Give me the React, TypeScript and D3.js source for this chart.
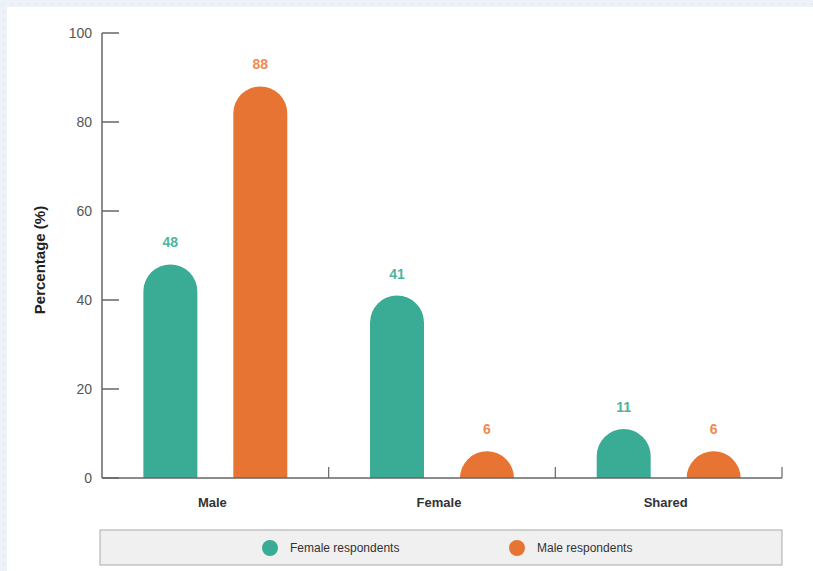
import React from "react";
import * as d3 from "d3";

const categories = ["Male", "Female", "Shared"];
const seriesNames = ["Female respondents", "Male respondents"];
const femaleRespondents = [48, 41, 11];
const maleRespondents = [88, 6, 6];
const yTicks = [0, 20, 40, 60, 80, 100];

const W = 813;
const H = 571;
const barColors = ["#3aab94", "#e87434"];
const labelColors = ["#4db59e", "#ee8a54"];

export default function App() {
  const left = 102;
  const right = 782;
  const top = 33;
  const bottom = 478;

  const x0 = d3.scaleBand<string>().domain(categories).range([left, right]).paddingInner(0).paddingOuter(0);
  const x1 = d3.scaleBand<string>().domain(seriesNames).range([0, x0.bandwidth()]).paddingInner(0.4).paddingOuter(0.46);
  const y = d3.scaleLinear().domain([0, 100]).range([bottom, top]);

  const series = [femaleRespondents, maleRespondents];
  const bw = x1.bandwidth();
  const r = bw / 2;

  return (
    <svg width={W} height={H} style={{ position: "absolute", left: 0, top: 0 }} fontFamily="Liberation Sans, Arial, sans-serif">
      <defs>
        <pattern id="dots" width="8" height="8" patternUnits="userSpaceOnUse">
          <rect width="8" height="8" fill="#edf1f8" />
          <rect x="3" y="3" width="1.5" height="1.5" fill="#dfe5f0" />
        </pattern>
        <clipPath id="plot">
          <rect x={left} y={0} width={right - left} height={bottom} />
        </clipPath>
      </defs>
      <rect width={W} height={H} fill="url(#dots)" />
      <rect x={7} y={7} width={W - 7} height={H - 7} fill="#ffffff" />

      {/* bars with rounded tops */}
      <g clipPath="url(#plot)">
        {categories.map((c, ci) =>
          seriesNames.map((s, si) => {
            const v = series[si][ci];
            const bx = (x0(c) ?? 0) + (x1(s) ?? 0);
            const by = y(v);
            return (
              <rect key={c + s} x={bx} y={by} width={bw} height={bottom - by + r} rx={r} ry={r} fill={barColors[si]} />
            );
          })
        )}
      </g>

      {/* value labels */}
      {categories.map((c, ci) =>
        seriesNames.map((s, si) => {
          const v = series[si][ci];
          const cx = (x0(c) ?? 0) + (x1(s) ?? 0) + bw / 2;
          return (
            <text key={"l" + c + s} x={cx} y={y(v) - 17} textAnchor="middle" fontSize={14} fontWeight="bold" fill={labelColors[si]}>
              {v}
            </text>
          );
        })
      )}

      {/* y axis */}
      <line x1={left} x2={left} y1={top} y2={bottom} stroke="#666" strokeWidth={1.5} />
      {yTicks.map((t) => (
        <g key={t}>
          <line x1={left} x2={left + 17} y1={y(t)} y2={y(t)} stroke="#666" strokeWidth={1.5} />
          <text x={left - 10} y={y(t)} dy="0.35em" textAnchor="end" fontSize={14} fill="#555">
            {t}
          </text>
        </g>
      ))}

      {/* x axis */}
      <line x1={left} x2={right} y1={bottom} y2={bottom} stroke="#666" strokeWidth={1.5} />
      {categories.map((c) => (
        <g key={c}>
          <line x1={(x0(c) ?? 0) + x0.bandwidth()} x2={(x0(c) ?? 0) + x0.bandwidth()} y1={bottom} y2={bottom - 11} stroke="#666" strokeWidth={1.2} />
          <text x={(x0(c) ?? 0) + x0.bandwidth() / 2 - 3} y={502} dy="0.35em" textAnchor="middle" fontSize={13} fontWeight="bold" fill="#333">
            {c}
          </text>
        </g>
      ))}

      <text transform={`translate(45,260) rotate(-90)`} textAnchor="middle" fontSize={15} fontWeight="bold" fill="#222">
        Percentage (%)
      </text>

      {/* legend */}
      <rect x={100} y={530} width={682} height={35} fill="#f0f0f0" stroke="#aaaaaa" strokeWidth={1} />
      {seriesNames.map((s, si) => {
        const lx = si === 0 ? 270 : 517;
        return (
          <g key={"lg" + s}>
            <circle cx={lx} cy={548} r={8} fill={barColors[si]} />
            <text x={lx + 20} y={548} dy="0.35em" fontSize={12} fill="#333">
              {s}
            </text>
          </g>
        );
      })}
    </svg>
  );
}
